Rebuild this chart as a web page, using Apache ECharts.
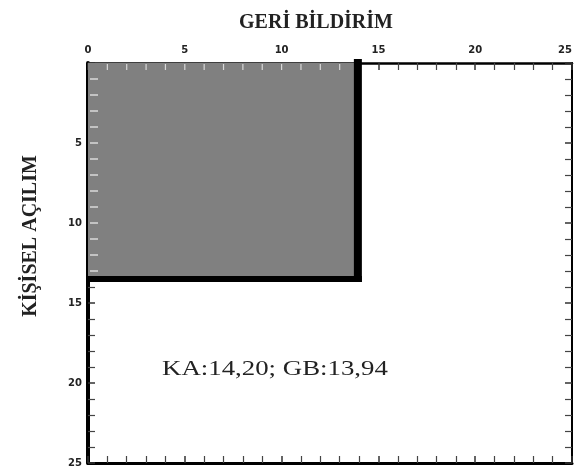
<!DOCTYPE html>
<html>
<head>
<meta charset="utf-8">
<script src="https://cdn.jsdelivr.net/npm/echarts@6/dist/echarts.min.js"></script>
<style>
  html, body { margin: 0; padding: 0; background: #fff; }
  #chart { width: 574px; height: 469px; }
</style>
</head>
<body>
<div id="chart"></div>
<script>
// axis range and tick labels
const axisMin = 0;
const axisMax = 25;
const tickStep = 5;

// quadrant corner (x = geri bildirim, y = kişisel açılım)
const feedbackValue = [13.94];
const disclosureValue = [13.5];

// text
const xTitle = 'GERİ BİLDİRİM';
const yTitle = 'KİŞİSEL AÇILIM';
const noteText = 'KA:14,20; GB:13,94';

const tickFont = { fontFamily: 'DejaVu Sans', fontWeight: 'bold', fontSize: 10, color: '#222' };

const chart = echarts.init(document.getElementById('chart'), null, { renderer: 'canvas' });

const baseAxis = {
  type: 'value',
  min: axisMin,
  max: axisMax,
  interval: tickStep,
  splitLine: { show: false },
  axisTick: { show: true, inside: true, length: 7, lineStyle: { color: '#333', width: 1.5 } },
  minorTick: { show: true, splitNumber: 5, length: 7, lineStyle: { color: '#444', width: 1.2 } }
};

chart.setOption({
  animation: false,
  backgroundColor: '#fff',
  title: {
    text: xTitle,
    left: 311,
    top: 8,
    textAlign: 'center',
    textStyle: { fontFamily: 'Liberation Serif', fontWeight: 'bold', fontSize: 20, color: '#222' }
  },
  grid: { left: 88, right: 2, top: 63, bottom: 6, outerBoundsMode: 'none', containLabel: false },
  xAxis: [
    Object.assign({}, baseAxis, {
      position: 'top',
      axisLine: { show: true, onZero: false, lineStyle: { color: '#000', width: 2.5 } },
      axisLabel: Object.assign({ margin: 8, alignMaxLabel: 'right' }, tickFont)
    }),
    Object.assign({}, baseAxis, {
      position: 'bottom',
      axisLine: { show: true, onZero: false, lineStyle: { color: '#000', width: 3 } },
      axisLabel: { show: false }
    })
  ],
  yAxis: [
    Object.assign({}, baseAxis, {
      inverse: true,
      position: 'left',
      axisLine: { show: true, onZero: false, lineStyle: { color: '#000', width: 4 } },
      axisLabel: Object.assign({
        margin: 6,
        formatter: v => (v === 0 ? '' : String(v))
      }, tickFont)
    }),
    Object.assign({}, baseAxis, {
      inverse: true,
      position: 'right',
      axisLine: { show: true, onZero: false, lineStyle: { color: '#000', width: 2 } },
      axisLabel: { show: false }
    })
  ],
  graphic: [
    {
      type: 'text',
      x: 31,
      y: 236,
      rotation: Math.PI / 2,
      style: {
        text: yTitle,
        font: 'bold 20px "Liberation Serif"',
        fill: '#222',
        textAlign: 'center',
        textVerticalAlign: 'middle'
      }
    },
    {
      type: 'text',
      x: 162,
      y: 358,
      scaleX: 1.22,
      style: {
        text: noteText,
        font: '22px "Liberation Serif"',
        fill: '#222',
        textVerticalAlign: 'top'
      }
    }
  ],
  series: [{
    type: 'custom',
    xAxisIndex: 0,
    yAxisIndex: 0,
    data: feedbackValue.map((x, i) => [x, disclosureValue[i]]),
    renderItem: function (params, api) {
      const origin = api.coord([axisMin, axisMin]);
      const corner = api.coord([api.value(0), api.value(1)]);
      const children = [{
        type: 'rect',
        shape: { x: origin[0], y: origin[1], width: corner[0] - origin[0], height: corner[1] - origin[1] },
        style: { fill: '#808080' }
      }];
      // light tick marks showing through the shaded area
      for (let v = 1; v < api.value(1); v++) {
        const p = api.coord([axisMin, v]);
        children.push({
          type: 'line',
          shape: { x1: p[0] + 2, y1: p[1], x2: p[0] + 10, y2: p[1] },
          style: { stroke: '#e8e8e8', lineWidth: 1.3 }
        });
      }
      for (let v = 1; v < api.value(0); v++) {
        const p = api.coord([v, axisMin]);
        children.push({
          type: 'line',
          shape: { x1: p[0], y1: p[1] + 1, x2: p[0], y2: p[1] + 7 },
          style: { stroke: '#d8d8d8', lineWidth: 1.2 }
        });
      }
      children.push(
        {
          type: 'line',
          shape: { x1: corner[0], y1: origin[1] - 4, x2: corner[0], y2: corner[1] + 3 },
          style: { stroke: '#000', lineWidth: 8 }
        },
        {
          type: 'line',
          shape: { x1: origin[0], y1: corner[1], x2: corner[0] + 4, y2: corner[1] },
          style: { stroke: '#000', lineWidth: 6 }
        }
      );
      return { type: 'group', children: children };
    }
  }]
});
</script>
</body>
</html>
